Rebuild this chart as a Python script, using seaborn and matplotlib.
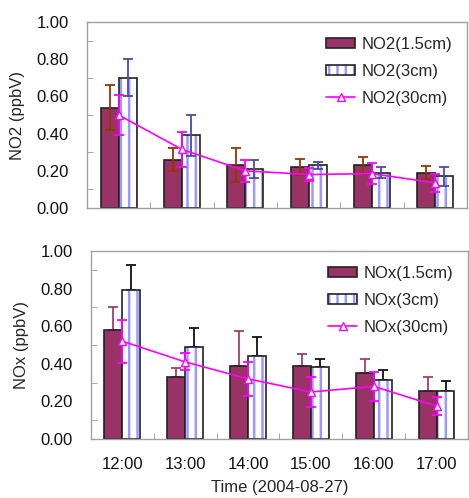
import numpy as np
import pandas as pd
import matplotlib
matplotlib.use("Agg")
import matplotlib.pyplot as plt
import matplotlib.colors as mcolors
from matplotlib.ticker import MultipleLocator, FixedLocator, FormatStrFormatter
import seaborn as sns

times = ["12:00", "13:00", "14:00", "15:00", "16:00", "17:00"]

# NO2 panel
no2_15 = [0.54, 0.26, 0.23, 0.22, 0.23, 0.19]
no2_15_err = [0.12, 0.06, 0.09, 0.045, 0.045, 0.035]
no2_3 = [0.70, 0.39, 0.21, 0.23, 0.19, 0.17]
no2_3_err = [0.10, 0.11, 0.05, 0.02, 0.03, 0.05]
no2_30 = [0.50, 0.315, 0.20, 0.18, 0.185, 0.135]
no2_30_err = [0.11, 0.095, 0.06, 0.035, 0.055, 0.05]

# NOx panel
nox_15 = [0.58, 0.33, 0.39, 0.39, 0.35, 0.255]
nox_15_err = [0.12, 0.045, 0.185, 0.06, 0.075, 0.075]
nox_3 = [0.79, 0.49, 0.44, 0.385, 0.315, 0.255]
nox_3_err = [0.135, 0.10, 0.10, 0.04, 0.05, 0.055]
nox_30 = [0.52, 0.41, 0.32, 0.25, 0.28, 0.175]
nox_30_err = [0.115, 0.045, 0.09, 0.08, 0.077, 0.05]

sns.set_style("white")
plt.rcParams["font.family"] = ["Liberation Sans", "DejaVu Sans"]
plt.rcParams["font.size"] = 12
plt.rcParams["hatch.linewidth"] = 1.8

PLUM = "#993366"
STRIPE = "#9999ff"
MAGENTA = "#ff00ff"


def draw_panel(ax, name, v15, e15, v3, e3, v30, e30, col15, col3, up_only):
    df = pd.DataFrame({
        "time": times * 2,
        "val": v15 + v3,
        "depth": ["1.5cm"] * len(times) + ["3cm"] * len(times),
    })
    sns.barplot(data=df, x="time", y="val", hue="depth", palette=[PLUM, "white"],
                width=0.57, gap=0, saturation=1, edgecolor="#222222", linewidth=1.2,
                errorbar=None, legend=False, ax=ax, zorder=2)
    c15, c3 = ax.containers[0], ax.containers[1]
    for p in c3:
        p.set_hatch("||")
        p._hatch_color = mcolors.to_rgba(STRIPE)

    x15 = [p.get_x() + p.get_width() / 2 for p in c15]
    x3 = [p.get_x() + p.get_width() / 2 for p in c3]
    if up_only:
        y15 = [np.zeros(len(e15)), e15]
        y3 = [np.zeros(len(e3)), e3]
        z = 1
    else:
        y15, y3, z = e15, e3, 3
    ax.errorbar(x15, v15, yerr=y15, fmt="none", ecolor=col15, elinewidth=1.3,
                capsize=3.5, capthick=1.3, zorder=z)
    ax.errorbar(x3, v3, yerr=y3, fmt="none", ecolor=col3, elinewidth=1.3,
                capsize=3.5, capthick=1.3, zorder=z)

    x30 = np.arange(len(times))
    eb = ax.errorbar(x30, v30, yerr=e30, color=MAGENTA, marker="^", ms=5.5,
                     mfc="white", mec=MAGENTA, lw=1.2, elinewidth=1.3,
                     capsize=3.5, capthick=1.3, zorder=4)

    ax.legend([c15, c3, eb[0]],
              [f"{name}(1.5cm)", f"{name}(3cm)", f"{name}(30cm)"],
              loc="upper right", frameon=False, fontsize=12, handlelength=1.75,
              handleheight=0.6, handletextpad=0.35, labelspacing=0.72,
              borderaxespad=0.9, borderpad=0)

    ax.set_xlim(-0.5, len(times) - 0.5)
    ax.set_ylim(0, 1.0)
    ax.yaxis.set_major_locator(MultipleLocator(0.2))
    ax.yaxis.set_major_formatter(FormatStrFormatter("%.2f"))
    ax.yaxis.set_minor_locator(MultipleLocator(0.1))
    ax.xaxis.set_minor_locator(FixedLocator(np.arange(0.5, len(times) - 0.5, 1)))
    ax.tick_params(axis="both", which="major", length=0, pad=13, labelsize=12,
                   colors="#111111")
    ax.tick_params(axis="y", which="minor", direction="in", length=4, left=True,
                   color="#999999")
    ax.tick_params(axis="x", which="minor", direction="in", length=4, bottom=True,
                   color="#999999")
    for s in ax.spines.values():
        s.set_color("#a0a0a0")
        s.set_linewidth(1.0)
    ax.set_ylabel(f"{name} (ppbV)", fontsize=12, labelpad=8)
    ax.set_xlabel("")


fig = plt.figure(figsize=(4.69, 4.98), dpi=100)
ax1 = fig.add_axes([0.1855, 0.5823, 0.8102, 0.3735])
ax2 = fig.add_axes([0.194, 0.1185, 0.8038, 0.3775])

draw_panel(ax1, "NO2", no2_15, no2_15_err, no2_3, no2_3_err, no2_30, no2_30_err,
           "#993300", "#4a4aa8", up_only=False)
draw_panel(ax2, "NOx", nox_15, nox_15_err, nox_3, nox_3_err, nox_30, nox_30_err,
           "#a04070", "#111111", up_only=True)

ax1.set_xticklabels([])
ax2.set_xlabel("Time (2004-08-27)", fontsize=12, labelpad=6)

fig.savefig("out.png", dpi=100)
